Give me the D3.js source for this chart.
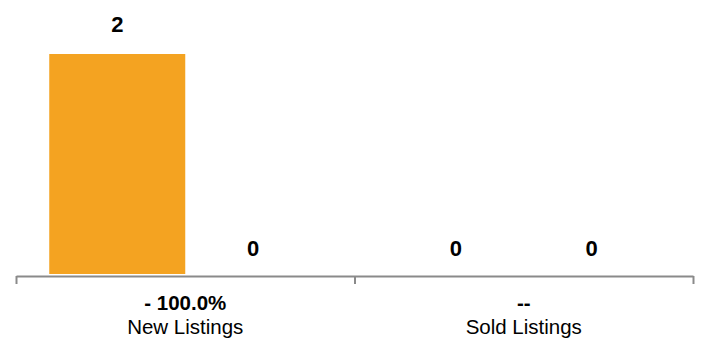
<!DOCTYPE html>
<html>
<head>
<meta charset="utf-8">
<script src="https://cdn.jsdelivr.net/npm/d3@7"></script>
<style>
  html, body { margin: 0; padding: 0; background: #fff; }
  svg { display: block; }
  text { font-family: "Liberation Sans", Arial, Helvetica, sans-serif; fill: #000; }
</style>
</head>
<body>
<svg id="chart" width="702" height="345"></svg>
<script>
const categories = ["New Listings", "Sold Listings"];
const changeLabels = ["- 100.0%", "--"];
const seriesKeys = ["current", "previous"];
const currentValues = [2, 0];
const previousValues = [0, 0];

const svg = d3.select("#chart");
const plotLeft = 16, plotRight = 693, plotBase = 274, plotTop = 54;

const x0 = d3.scaleBand().domain(categories).range([plotLeft, plotRight]).paddingInner(0).paddingOuter(0);
const x1 = d3.scaleBand().domain(seriesKeys).range([0, x0.bandwidth()]).paddingInner(0).paddingOuter(0.2445);
const y = d3.scaleLinear().domain([0, 2]).range([plotBase, plotTop]);
const colors = { current: "#F4A321", previous: "#9B9B9B" };

const data = categories.map((c, i) => ({
  cat: c,
  change: changeLabels[i],
  vals: [
    { key: "current", v: currentValues[i] },
    { key: "previous", v: previousValues[i] }
  ]
}));

const g = svg.selectAll("g.grp").data(data).join("g")
  .attr("class", "grp")
  .attr("transform", d => `translate(${x0(d.cat)},0)`);

g.selectAll("rect").data(d => d.vals).join("rect")
  .attr("x", d => x1(d.key))
  .attr("width", x1.bandwidth())
  .attr("y", d => y(d.v))
  .attr("height", d => plotBase - y(d.v))
  .attr("fill", d => colors[d.key]);

g.selectAll("text.val").data(d => d.vals).join("text")
  .attr("class", "val")
  .attr("x", d => x1(d.key) + x1.bandwidth() / 2)
  .attr("y", d => y(d.v) - (d.v > 0 ? 22 : 18))
  .attr("text-anchor", "middle")
  .attr("font-size", 22)
  .attr("font-weight", "bold")
  .text(d => d.v);

// axis
const xa = d3.scaleLinear().domain([0, categories.length]).range([plotLeft, plotRight]);
const axis = svg.append("g")
  .attr("transform", `translate(0,${plotBase + 2})`)
  .call(d3.axisBottom(xa).tickValues(d3.range(categories.length + 1)).tickSize(8).tickSizeOuter(0).tickFormat(""));
axis.select(".domain").attr("stroke", "#8a8a8a").attr("stroke-width", 2);
axis.selectAll(".tick line").attr("stroke", "#8a8a8a").attr("stroke-width", 2);

// category labels
svg.selectAll("text.chg").data(data).join("text")
  .attr("class", "chg")
  .attr("x", d => x0(d.cat) + x0.bandwidth() / 2)
  .attr("y", 310)
  .attr("text-anchor", "middle")
  .attr("font-size", 20.5)
  .attr("font-weight", "bold")
  .text(d => d.change);

svg.selectAll("text.cat").data(data).join("text")
  .attr("class", "cat")
  .attr("x", d => x0(d.cat) + x0.bandwidth() / 2)
  .attr("y", 334)
  .attr("text-anchor", "middle")
  .attr("font-size", 20.5)
  .text(d => d.cat);
</script>
</body>
</html>
